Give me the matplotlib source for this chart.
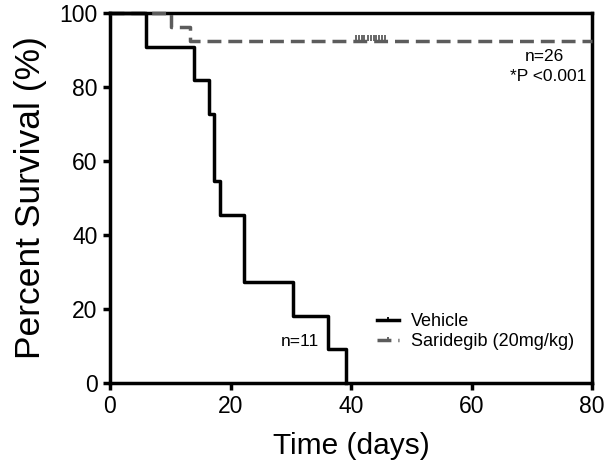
import matplotlib
matplotlib.use("Agg")
import matplotlib.pyplot as plt
from matplotlib.lines import Line2D

plt.rcParams['font.family'] = ['Liberation Sans', 'DejaVu Sans']

# Kaplan-Meier steps
veh_days = [0, 6, 14, 16.5, 17.3, 18.2, 22.2, 30.3, 36.2, 39.2]
veh_surv = [100, 90.9, 81.8, 72.7, 54.5, 45.5, 27.3, 18.2, 9.1, 0]

sar_days = [0, 10.2, 13.2, 80]
sar_surv = [100, 96.2, 92.3, 92.3]
sar_censor_days = [40.8, 41.3, 41.8, 42.2, 42.8, 43.3, 43.8, 44.2, 44.7, 45.2, 45.7]
sar_censor_surv = [92.3] * len(sar_censor_days)

x_ticks = [0, 20, 40, 60, 80]
y_ticks = [0, 20, 40, 60, 80, 100]

grey = '#5c5c5c'
tick_up = [(0, 0), (0, 1)]

fig = plt.figure(figsize=(6.06, 4.72), dpi=100)
ax = fig.add_axes([0.1815, 0.1886, 0.7955, 0.784])

ax.step(sar_days, sar_surv, where='post', color=grey, lw=2.5,
        linestyle=(0, (4, 2)), clip_on=False, zorder=3)
ax.plot(sar_censor_days, sar_censor_surv, ls='none', marker=tick_up,
        ms=8, mec=grey, mew=1.3, clip_on=False, zorder=3)
ax.step(veh_days, veh_surv, where='post', color='black', lw=2.5,
        clip_on=False, zorder=4)

ax.set_xlim(0, 80)
ax.set_ylim(0, 100)
ax.set_xticks(x_ticks)
ax.set_yticks(y_ticks)
ax.tick_params(direction='out', length=5, width=2.5, labelsize=16.5, pad=4)
for s in ax.spines.values():
    s.set_linewidth(2.5)

ax.set_xlabel('Time (days)', fontsize=21.5, labelpad=10)
ax.set_ylabel('Percent Survival (%)', fontsize=25.5, labelpad=9)

ax.text(72.1, 88.1, 'n=26', ha='center', va='center', fontsize=12.5)
ax.text(72.8, 82.7, '*P <0.001', ha='center', va='center', fontsize=12.5)
ax.text(31.6, 11.3, 'n=11', ha='center', va='center', fontsize=12.5)

handles = [
    Line2D([], [], color='black', lw=2.5, marker=tick_up, ms=5, mew=1.3),
    Line2D([], [], color=grey, lw=2.5, linestyle=(0, (4, 2)),
           marker=tick_up, ms=5, mew=1.3, mec=grey),
]
ax.legend(handles, ['Vehicle', 'Saridegib (20mg/kg)'], loc='lower left',
          bbox_to_anchor=(0.52, 0.045), frameon=False, fontsize=13,
          handlelength=1.2, handletextpad=0.7, labelspacing=0.15,
          numpoints=1)

fig.savefig('out.png', dpi=100)
